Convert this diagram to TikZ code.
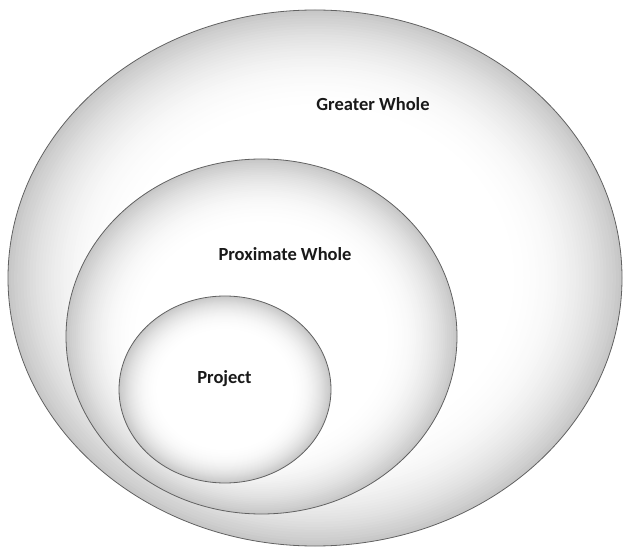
\documentclass[tikz,border=0pt]{standalone}
\usepackage{fontspec}
\setmainfont{Carlito}
\usetikzlibrary{shapes.geometric}
\newcommand\softfill[4]{%
  \foreach \i in {0,...,40}{%
    \pgfmathsetmacro\sc{1-0.40*\i/40}%
    \pgfmathsetmacro\cc{22*(1-\i/40)^2.4}%
    \fill[black!\cc] (#1,#2) ellipse ({#3*\sc} and {#4*\sc});
  }%
}
\tikzset{
  ring/.style={ellipse, draw=black!62, line width=0.8pt, inner sep=0pt},
  lbl/.style={font=\bfseries\fontsize{18.5}{20}\selectfont, text=black!90, inner sep=0pt}
}
\begin{document}
\begin{tikzpicture}[x=1pt,y=1pt]
\useasboundingbox (0,0) rectangle (623,549);
\fill[white] (0,0) rectangle (623,549);
\softfill{315}{271}{307}{268}
\node[ring, minimum width=614pt, minimum height=536pt] (greater) at (315,271) {};
\softfill{261.5}{212.5}{195.5}{177.5}
\node[ring, minimum width=391pt, minimum height=355pt] (proximate) at (261.5,212.5) {};
\softfill{225}{159.5}{106}{93.5}
\node[ring, minimum width=212pt, minimum height=187pt] (project) at (225,159.5) {};
\node[lbl] (tgreater) at (373,445) {Greater Whole};
\node[lbl] (tproximate) at (285,294.5) {Proximate Whole};
\node[lbl] (tproject) at (224.5,170) {Project};
\end{tikzpicture}
\end{document}
